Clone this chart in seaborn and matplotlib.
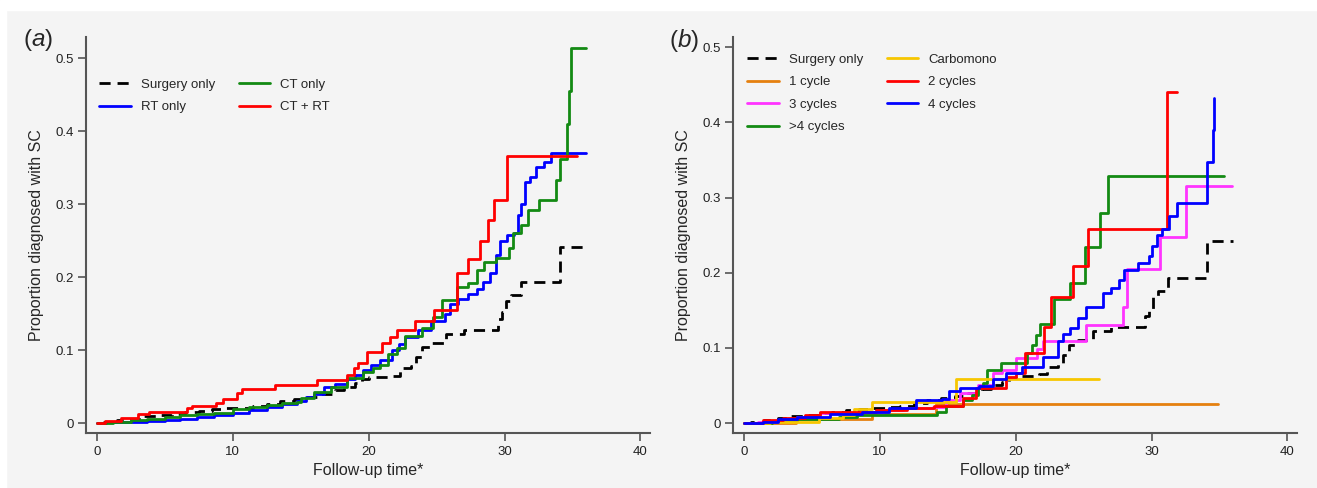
"""
Cumulative incidence of second cancer (SC) by treatment group.
(a) by treatment type, (b) by number of chemotherapy cycles.
"""
import matplotlib
matplotlib.use("Agg")
import matplotlib.pyplot as plt
from matplotlib.patches import Rectangle
import seaborn as sns

# ---- data ----
# shared reference group
surgery_t = [0, 0.5, 1.5, 2.5, 3.5, 4.5, 5.5, 6.5, 7.5, 8.5, 9.5, 10.5, 11.5, 12.5, 13.5,
             14.5, 15.5, 16.5, 17.5, 18.2, 19.0, 19.5, 20.0, 21.7, 22.3, 23.1, 23.5, 23.9,
             24.6, 25.7, 27.0, 29.5, 29.8, 30.1, 30.5, 31.2, 34.1, 36.0]
surgery_p = [0, 0.002, 0.004, 0.006, 0.009, 0.011, 0.013, 0.015, 0.017, 0.019, 0.020, 0.021,
             0.023, 0.026, 0.030, 0.033, 0.036, 0.040, 0.045, 0.050, 0.055, 0.060, 0.063,
             0.065, 0.075, 0.078, 0.090, 0.104, 0.110, 0.122, 0.128, 0.142, 0.152, 0.168,
             0.176, 0.193, 0.242, 0.242]

# panel (a)
rt_t = [0, 0.7, 2.5, 3.7, 5.0, 6.1, 7.4, 8.6, 10.0, 11.2, 12.5, 13.6, 14.7, 15.4, 16.0, 16.7,
        17.5, 18.4, 19.0, 19.6, 20.2, 20.8, 21.7, 22.2, 22.7, 23.6, 24.6, 25.6, 26.0, 26.6,
        27.3, 28.0, 28.4, 28.9, 29.4, 29.7, 30.2, 30.7, 31.0, 31.2, 31.5, 31.9, 32.3, 32.9,
        33.4, 36.0]
rt_p = [0, 0.001, 0.002, 0.003, 0.004, 0.006, 0.008, 0.011, 0.014, 0.018, 0.022, 0.026,
        0.030, 0.035, 0.040, 0.049, 0.054, 0.060, 0.066, 0.073, 0.080, 0.087, 0.100, 0.108,
        0.118, 0.127, 0.140, 0.149, 0.163, 0.170, 0.177, 0.184, 0.193, 0.206, 0.231, 0.249,
        0.258, 0.260, 0.285, 0.300, 0.330, 0.337, 0.351, 0.358, 0.370, 0.371]
ct_t = [0, 1.2, 2.5, 3.7, 5.0, 6.1, 7.4, 8.6, 10.0, 11.2, 12.5, 13.6, 14.7, 15.0, 16.0, 17.2,
        18.4, 19.6, 20.3, 20.8, 21.4, 22.1, 22.7, 23.9, 24.7, 25.4, 26.5, 27.3, 28.0, 28.5,
        29.4, 30.3, 30.6, 31.2, 31.7, 32.5, 33.8, 34.1, 34.6, 34.75, 34.9, 36.0]
ct_p = [0, 0.002, 0.004, 0.006, 0.008, 0.011, 0.013, 0.014, 0.019, 0.022, 0.025, 0.027,
        0.029, 0.034, 0.043, 0.050, 0.062, 0.070, 0.075, 0.080, 0.095, 0.103, 0.120, 0.130,
        0.146, 0.169, 0.187, 0.192, 0.210, 0.221, 0.226, 0.240, 0.260, 0.272, 0.292, 0.306,
        0.333, 0.362, 0.410, 0.456, 0.515, 0.515]
ctrt_t = [0, 0.6, 1.8, 3.0, 3.8, 6.6, 7.0, 8.8, 9.3, 10.3, 10.7, 13.1, 16.2, 18.4, 18.9,
          19.2, 19.9, 21.0, 21.6, 22.1, 23.4, 24.8, 26.5, 27.3, 28.2, 28.8, 29.2, 30.2, 35.3]
ctrt_p = [0, 0.003, 0.007, 0.012, 0.015, 0.020, 0.024, 0.028, 0.033, 0.041, 0.046, 0.052,
          0.059, 0.066, 0.075, 0.082, 0.098, 0.110, 0.118, 0.128, 0.140, 0.155, 0.206, 0.225,
          0.250, 0.278, 0.306, 0.366, 0.366]

# panel (b)
carbo_t = [0, 1.9, 5.5, 7.3, 8.1, 9.4, 15.6, 26.1]
carbo_p = [0, 0.002, 0.007, 0.011, 0.019, 0.028, 0.059, 0.059]
cyc1_t = [0, 3.8, 9.4, 14.1, 34.9]
cyc1_p = [0, 0.005, 0.012, 0.025, 0.025]
cyc2_t = [0, 1.4, 2.9, 4.5, 5.6, 9.7, 12.0, 14.0, 16.1, 17.1, 19.3, 20.0, 20.7, 22.1, 22.6,
          24.2, 25.3, 31.1, 31.9]
cyc2_p = [0, 0.004, 0.006, 0.010, 0.014, 0.017, 0.020, 0.022, 0.033, 0.046, 0.061, 0.066,
          0.093, 0.128, 0.168, 0.209, 0.258, 0.440, 0.440]
cyc3_t = [0, 1.0, 2.5, 3.9, 5.6, 10.2, 11.7, 13.9, 14.9, 15.9, 17.2, 18.3, 19.0, 20.0, 21.6,
          22.0, 25.2, 27.9, 28.2, 30.65, 32.5, 35.9]
cyc3_p = [0, 0.002, 0.004, 0.008, 0.013, 0.017, 0.020, 0.021, 0.031, 0.040, 0.050, 0.066,
          0.070, 0.087, 0.098, 0.109, 0.131, 0.154, 0.205, 0.248, 0.316, 0.316]
cyc4_t = [0, 1.4, 2.5, 3.9, 6.3, 8.7, 10.7, 12.7, 14.6, 15.1, 15.9, 17.3, 18.3, 19.3, 20.5,
          22.0, 23.1, 23.5, 24.0, 24.6, 25.2, 26.4, 27.0, 27.6, 28.0, 29.0, 29.8, 30.0, 30.4,
          30.8, 31.3, 31.9, 34.1, 34.5, 34.6]
cyc4_p = [0, 0.002, 0.005, 0.008, 0.012, 0.015, 0.020, 0.031, 0.032, 0.042, 0.046, 0.049,
          0.058, 0.066, 0.075, 0.088, 0.109, 0.118, 0.127, 0.140, 0.155, 0.173, 0.180, 0.190,
          0.203, 0.213, 0.222, 0.235, 0.250, 0.258, 0.275, 0.293, 0.347, 0.390, 0.433]
cyc5_t = [0, 2.1, 3.9, 7.0, 8.3, 14.2, 14.9, 16.1, 16.8, 17.2, 17.6, 17.9, 18.9, 20.8, 21.2,
          21.5, 21.8, 22.8, 24.0, 25.1, 26.2, 26.8, 35.3]
cyc5_p = [0, 0.003, 0.005, 0.008, 0.011, 0.014, 0.022, 0.031, 0.037, 0.046, 0.053, 0.070,
          0.080, 0.093, 0.104, 0.117, 0.132, 0.165, 0.186, 0.234, 0.280, 0.329, 0.329]

series_a = [("Surgery only", surgery_t, surgery_p, "black"),
            ("RT only", rt_t, rt_p, "#0000ff"),
            ("CT only", ct_t, ct_p, "#138a13"),
            ("CT + RT", ctrt_t, ctrt_p, "#ff0000")]
series_b = [("Surgery only", surgery_t, surgery_p, "black"),
            ("1 cycle", cyc1_t, cyc1_p, "#e5800f"),
            ("3 cycles", cyc3_t, cyc3_p, "#ff33ff"),
            (">4 cycles", cyc5_t, cyc5_p, "#138a13"),
            ("Carbomono", carbo_t, carbo_p, "#f7c600"),
            ("2 cycles", cyc2_t, cyc2_p, "#ff0000"),
            ("4 cycles", cyc4_t, cyc4_p, "#0000ff")]

BG = "#f4f4f4"
AXC = "#555555"
sns.set_style("ticks")
plt.rcParams["font.family"] = ["Liberation Sans", "DejaVu Sans"]
plt.rcParams["mathtext.fontset"] = "custom"
plt.rcParams["mathtext.it"] = "Liberation Sans:italic"
plt.rcParams["mathtext.rm"] = "Liberation Sans"


def draw_panel(ax, series, ylim, leg_anchor):
    for name, t, p, col in series:
        ls = (0, (4, 2.5)) if name == "Surgery only" else "-"
        sns.lineplot(x=t, y=p, ax=ax, color=col, lw=2.0, linestyle=ls,
                     drawstyle="steps-post", estimator=None, sort=False, label=name)
    ax.set_facecolor(BG)
    ax.set_xlim(-0.8, 40.7)
    ax.set_ylim(*ylim)
    ax.set_xticks([0, 10, 20, 30, 40])
    ax.set_yticks([0, 0.1, 0.2, 0.3, 0.4, 0.5])
    ax.set_yticklabels(["0", "0.1", "0.2", "0.3", "0.4", "0.5"])
    ax.tick_params(direction="out", length=5.5, width=1.2, color=AXC,
                   labelsize=9.5, labelcolor="#222222")
    for s in ["top", "right"]:
        ax.spines[s].set_visible(False)
    for s in ["left", "bottom"]:
        ax.spines[s].set_linewidth(1.5)
        ax.spines[s].set_color(AXC)
    ax.set_xlabel("Follow-up time*", fontsize=11.5, labelpad=4)
    ax.set_ylabel("Proportion diagnosed with SC", fontsize=11.5, labelpad=8)
    h, l = ax.get_legend_handles_labels()
    ax.legend(h, l, ncol=2, frameon=False, loc="upper left", bbox_to_anchor=leg_anchor,
              borderaxespad=0, borderpad=0, fontsize=9.5, handlelength=2.4,
              handletextpad=0.75, columnspacing=1.8, labelspacing=0.78)


fig = plt.figure(figsize=(13.17, 4.88), dpi=100, facecolor=BG)
ax_a = fig.add_axes([0.0653, 0.1127, 0.4282, 0.8115])
ax_b = fig.add_axes([0.5566, 0.1127, 0.4282, 0.8115])

draw_panel(ax_a, series_a, (-0.0137, 0.5295), (0.023, 0.895))
draw_panel(ax_b, series_b, (-0.0133, 0.5137), (0.025, 0.958))

fig.text(23 / 1317, 1 - 40 / 488, r"($\it{a}$)", fontsize=17.5, va="center", ha="left")
fig.text(669 / 1317, 1 - 40 / 488, r"($\it{b}$)", fontsize=17.5, va="center", ha="left")

# white strip along the top and left edge of the scan
fig.patches.append(Rectangle((0, 1 - 10 / 488), 1, 10 / 488, transform=fig.transFigure,
                             color="white", zorder=-1))
fig.patches.append(Rectangle((0, 0), 6 / 1317, 1, transform=fig.transFigure,
                             color="white", zorder=-1))

fig.savefig("out.png", dpi=100, facecolor=fig.get_facecolor())
